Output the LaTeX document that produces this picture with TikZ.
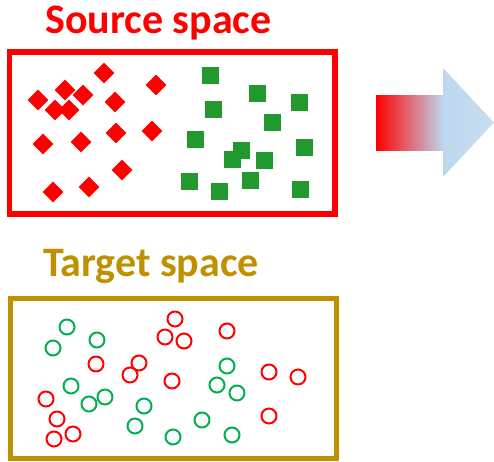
\documentclass[tikz,border=0pt]{standalone}
\usepackage{fontspec}
\setmainfont{Carlito}
\usetikzlibrary{shapes.geometric}
\definecolor{gold}{HTML}{BF9000}
\definecolor{sqgreen}{HTML}{22992F}
\definecolor{cgreen}{HTML}{00B050}
\definecolor{lblue}{HTML}{BDD7EE}
\definecolor{lblue2}{HTML}{C9DFF1}
\tikzset{
  rdiam/.style={diamond, fill=red, inner sep=0pt, minimum width=21pt, minimum height=21pt},
  gsq/.style={rectangle, fill=sqgreen, inner sep=0pt, minimum size=17pt},
  circ/.style={circle, draw=#1, line width=2pt, inner sep=0pt, minimum size=15pt},
  title/.style={anchor=base, font=\fontsize{42}{42}\selectfont\bfseries, inner sep=0pt},
}
\begin{document}
\begin{tikzpicture}[x=1pt,y=-1pt]
\useasboundingbox (0,0) rectangle (494,461);
% titles
\node[title, text=red] (st) at (158.5,33) {Source space};
\node[title, text=gold] (tt) at (151,276) {Target space};
% boxes
\draw[red, line width=5.5pt] (9.5,52) rectangle (335,214);
\draw[gold, line width=5pt] (10,298) rectangle (336,458);
% red diamonds
\foreach \x/\y [count=\i] in {104/73,156/85,38/100,65/90,83/95,115/102,55/110,69/110,43/144,81/142,116/133,152/131,122/170,89/187,53/192}
  \node[rdiam] (d\i) at (\x,\y) {};
% green squares
\foreach \x/\y [count=\i] in {210/75,257/93,299/102,213/109,272/122,195/139,241/150,232/159,264/160,304/147,189/181,219/191,250/180,300/189}
  \node[gsq] (s\i) at (\x,\y) {};
% green circles
\foreach \x/\y [count=\i] in {67/327,53/348,97/340,71/386,89/404,105/397,144/406,135/426,173/437,202/420,232/435,227/366,217/385,237/393}
  \node[circ=cgreen] (g\i) at (\x,\y) {};
% red circles
\foreach \x/\y [count=\i] in {175/319,165/337,184/341,227/331,96/364,139/363,130/375,172/381,46/399,57/419,54/439,73/434,269/372,298/377,269/416}
  \node[circ=red] (r\i) at (\x,\y) {};
% arrow
\shade[left color=red, right color=lblue] (376,95) rectangle (443.5,150);
\shade[left color=lblue, right color=lblue2] (443,68) -- (494,122.5) -- (443,177) -- cycle;
\end{tikzpicture}
\end{document}
